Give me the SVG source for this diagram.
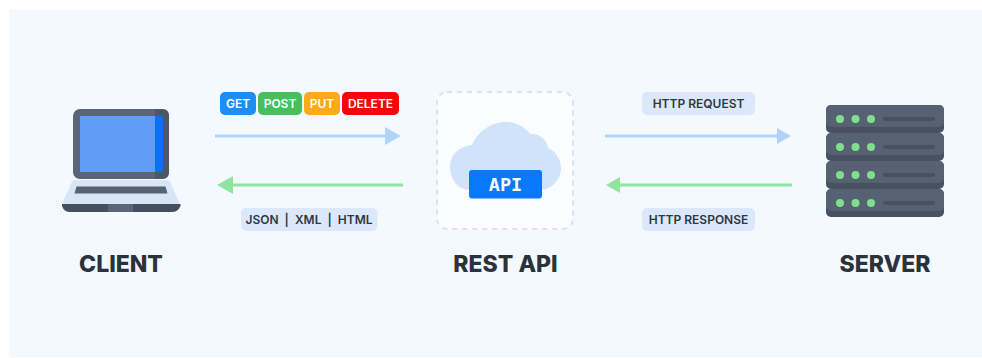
<svg xmlns="http://www.w3.org/2000/svg" width="982" height="358" viewBox="0 0 982 358">
<style>
.pill{font-family:Inter,"Liberation Sans",sans-serif;font-weight:600;font-size:12px;fill:#fff;text-anchor:middle}
.lab{font-family:Inter,"Liberation Sans",sans-serif;font-weight:600;font-size:12px;fill:#2f3742;text-anchor:middle}
.title{font-family:Inter,"Liberation Sans",sans-serif;font-weight:800;font-size:23px;fill:#2b323c;text-anchor:middle}
.chip{fill:#dbe8fb}
.blue{stroke:#b0d3fb;stroke-width:3;fill:none}
.green{stroke:#8fe59d;stroke-width:3;fill:none}
.unit{fill:#566172}
.unitb{fill:#465161}
.dot{fill:#7fdf8f}
.bar{fill:#465161}
</style>
<rect width="982" height="358" fill="#ffffff"/>
<rect x="9" y="10" width="973" height="347" fill="#f4f9ff"/>
<g id="client">
<rect x="73" y="109" width="96" height="70" rx="7" fill="#5a6678"/>
<path d="M155 109H162Q169 109 169 116V172Q169 179 162 179H155V172H163V116H155Z" fill="#4c5869"/>
<rect x="80" y="116" width="75" height="56" fill="#5f9df7"/>
<rect x="155" y="116" width="8" height="56" fill="#0a72f0"/>
<path d="M76 180H166Q170 180 171 184L180 204H62L71 184Q72 180 76 180Z" fill="#d8e5f6"/>
<path d="M76.500 186.500H165.500L167.500 193.500H74.500Z" fill="#566274"/>
<path d="M62 204H180.500V206Q178 212 172 212H70Q64 212 62 206Z" fill="#434f5f"/>
<rect x="108" y="204" width="25" height="8" fill="#5a6678"/>
<text class="title" x="121" y="272">CLIENT</text>
</g>
<g id="methods">
<rect x="220" y="92" width="36" height="23" rx="5" fill="#1e8df5"/>
<text class="pill" x="238" y="107.500">GET</text>
<rect x="258" y="92" width="44" height="23" rx="5" fill="#45c05c"/>
<text class="pill" x="280" y="107.500">POST</text>
<rect x="304" y="92" width="36" height="23" rx="5" fill="#fcaa1c"/>
<text class="pill" x="322" y="107.500">PUT</text>
<rect x="342" y="92" width="57" height="23" rx="5" fill="#fa0505"/>
<text class="pill" x="370.500" y="107.500">DELETE</text>
</g>
<g id="formats">
<rect class="chip" x="241" y="208" width="136.500" height="23" rx="5"/>
<text class="lab" x="309" y="223.500" xml:space="preserve">JSON  |  XML  |  HTML</text>
</g>
<g id="rest-api">
<rect x="437" y="92" width="136" height="137" rx="10" fill="#fafcff" stroke="#d9e2ee" stroke-width="2" stroke-dasharray="5 5"/>
<path d="M470 190C457 190 450 178 450 167C450 155 459 146 472 145C478 131 492 122 505 122C518 122 525 128 530 134C541 133 547 141 548 148C556 151 561 160 561 168C561 180 551 190 540 190Z" fill="#cfe4fb"/>
<rect x="469" y="170" width="73" height="28.500" rx="3" fill="#0a78fa"/>
<text x="505.500" y="190.500" text-anchor="middle" font-family="'DejaVu Sans Mono','Liberation Mono',monospace" font-weight="700" font-size="18.500" fill="#fff">API</text>
<text class="title" x="505.500" y="272">REST API</text>
</g>
<g id="request-label">
<rect class="chip" x="642" y="92" width="113" height="23" rx="5"/>
<text class="lab" x="698.500" y="107.500">HTTP REQUEST</text>
</g>
<g id="response-label">
<rect class="chip" x="642" y="208" width="113" height="23" rx="5"/>
<text class="lab" x="698.500" y="223.500">HTTP RESPONSE</text>
</g>
<g id="server">
<g id="u1"><rect class="unitb" x="826" y="105" width="118" height="28" rx="5"/><rect class="unit" x="826" y="105" width="118" height="22" rx="5"/><circle class="dot" cx="840" cy="119" r="4"/><circle class="dot" cx="855.500" cy="119" r="4"/><circle class="dot" cx="871" cy="119" r="4"/><rect class="bar" x="883" y="117" width="52" height="4" rx="2"/></g>
<g id="u2"><rect class="unitb" x="826" y="133" width="118" height="28" rx="5"/><rect class="unit" x="826" y="133" width="118" height="22" rx="5"/><circle class="dot" cx="840" cy="147" r="4"/><circle class="dot" cx="855.500" cy="147" r="4"/><circle class="dot" cx="871" cy="147" r="4"/><rect class="bar" x="883" y="145" width="52" height="4" rx="2"/></g>
<g id="u3"><rect class="unitb" x="826" y="161" width="118" height="28" rx="5"/><rect class="unit" x="826" y="161" width="118" height="22" rx="5"/><circle class="dot" cx="840" cy="175" r="4"/><circle class="dot" cx="855.500" cy="175" r="4"/><circle class="dot" cx="871" cy="175" r="4"/><rect class="bar" x="883" y="173" width="52" height="4" rx="2"/></g>
<g id="u4"><rect class="unitb" x="826" y="189" width="118" height="28" rx="5"/><rect class="unit" x="826" y="189" width="118" height="22" rx="5"/><circle class="dot" cx="840" cy="203" r="4"/><circle class="dot" cx="855.500" cy="203" r="4"/><circle class="dot" cx="871" cy="203" r="4"/><rect class="bar" x="883" y="201" width="52" height="4" rx="2"/></g>
<text class="title" x="885" y="272">SERVER</text>
</g>
<g id="connectors">
<path class="blue" d="M215 136H386"/><path d="M385 127L401 136L385 145Z" fill="#b0d3fb"/>
<path class="green" d="M403 185H232"/><path d="M233 176L217 185L233 194Z" fill="#8fe59d"/>
<path class="blue" d="M605 136H778"/><path d="M777 128L791 136L777 144Z" fill="#b0d3fb"/>
<path class="green" d="M792 185H620"/><path d="M620 177L606 185L620 193Z" fill="#8fe59d"/>
</g>
</svg>
